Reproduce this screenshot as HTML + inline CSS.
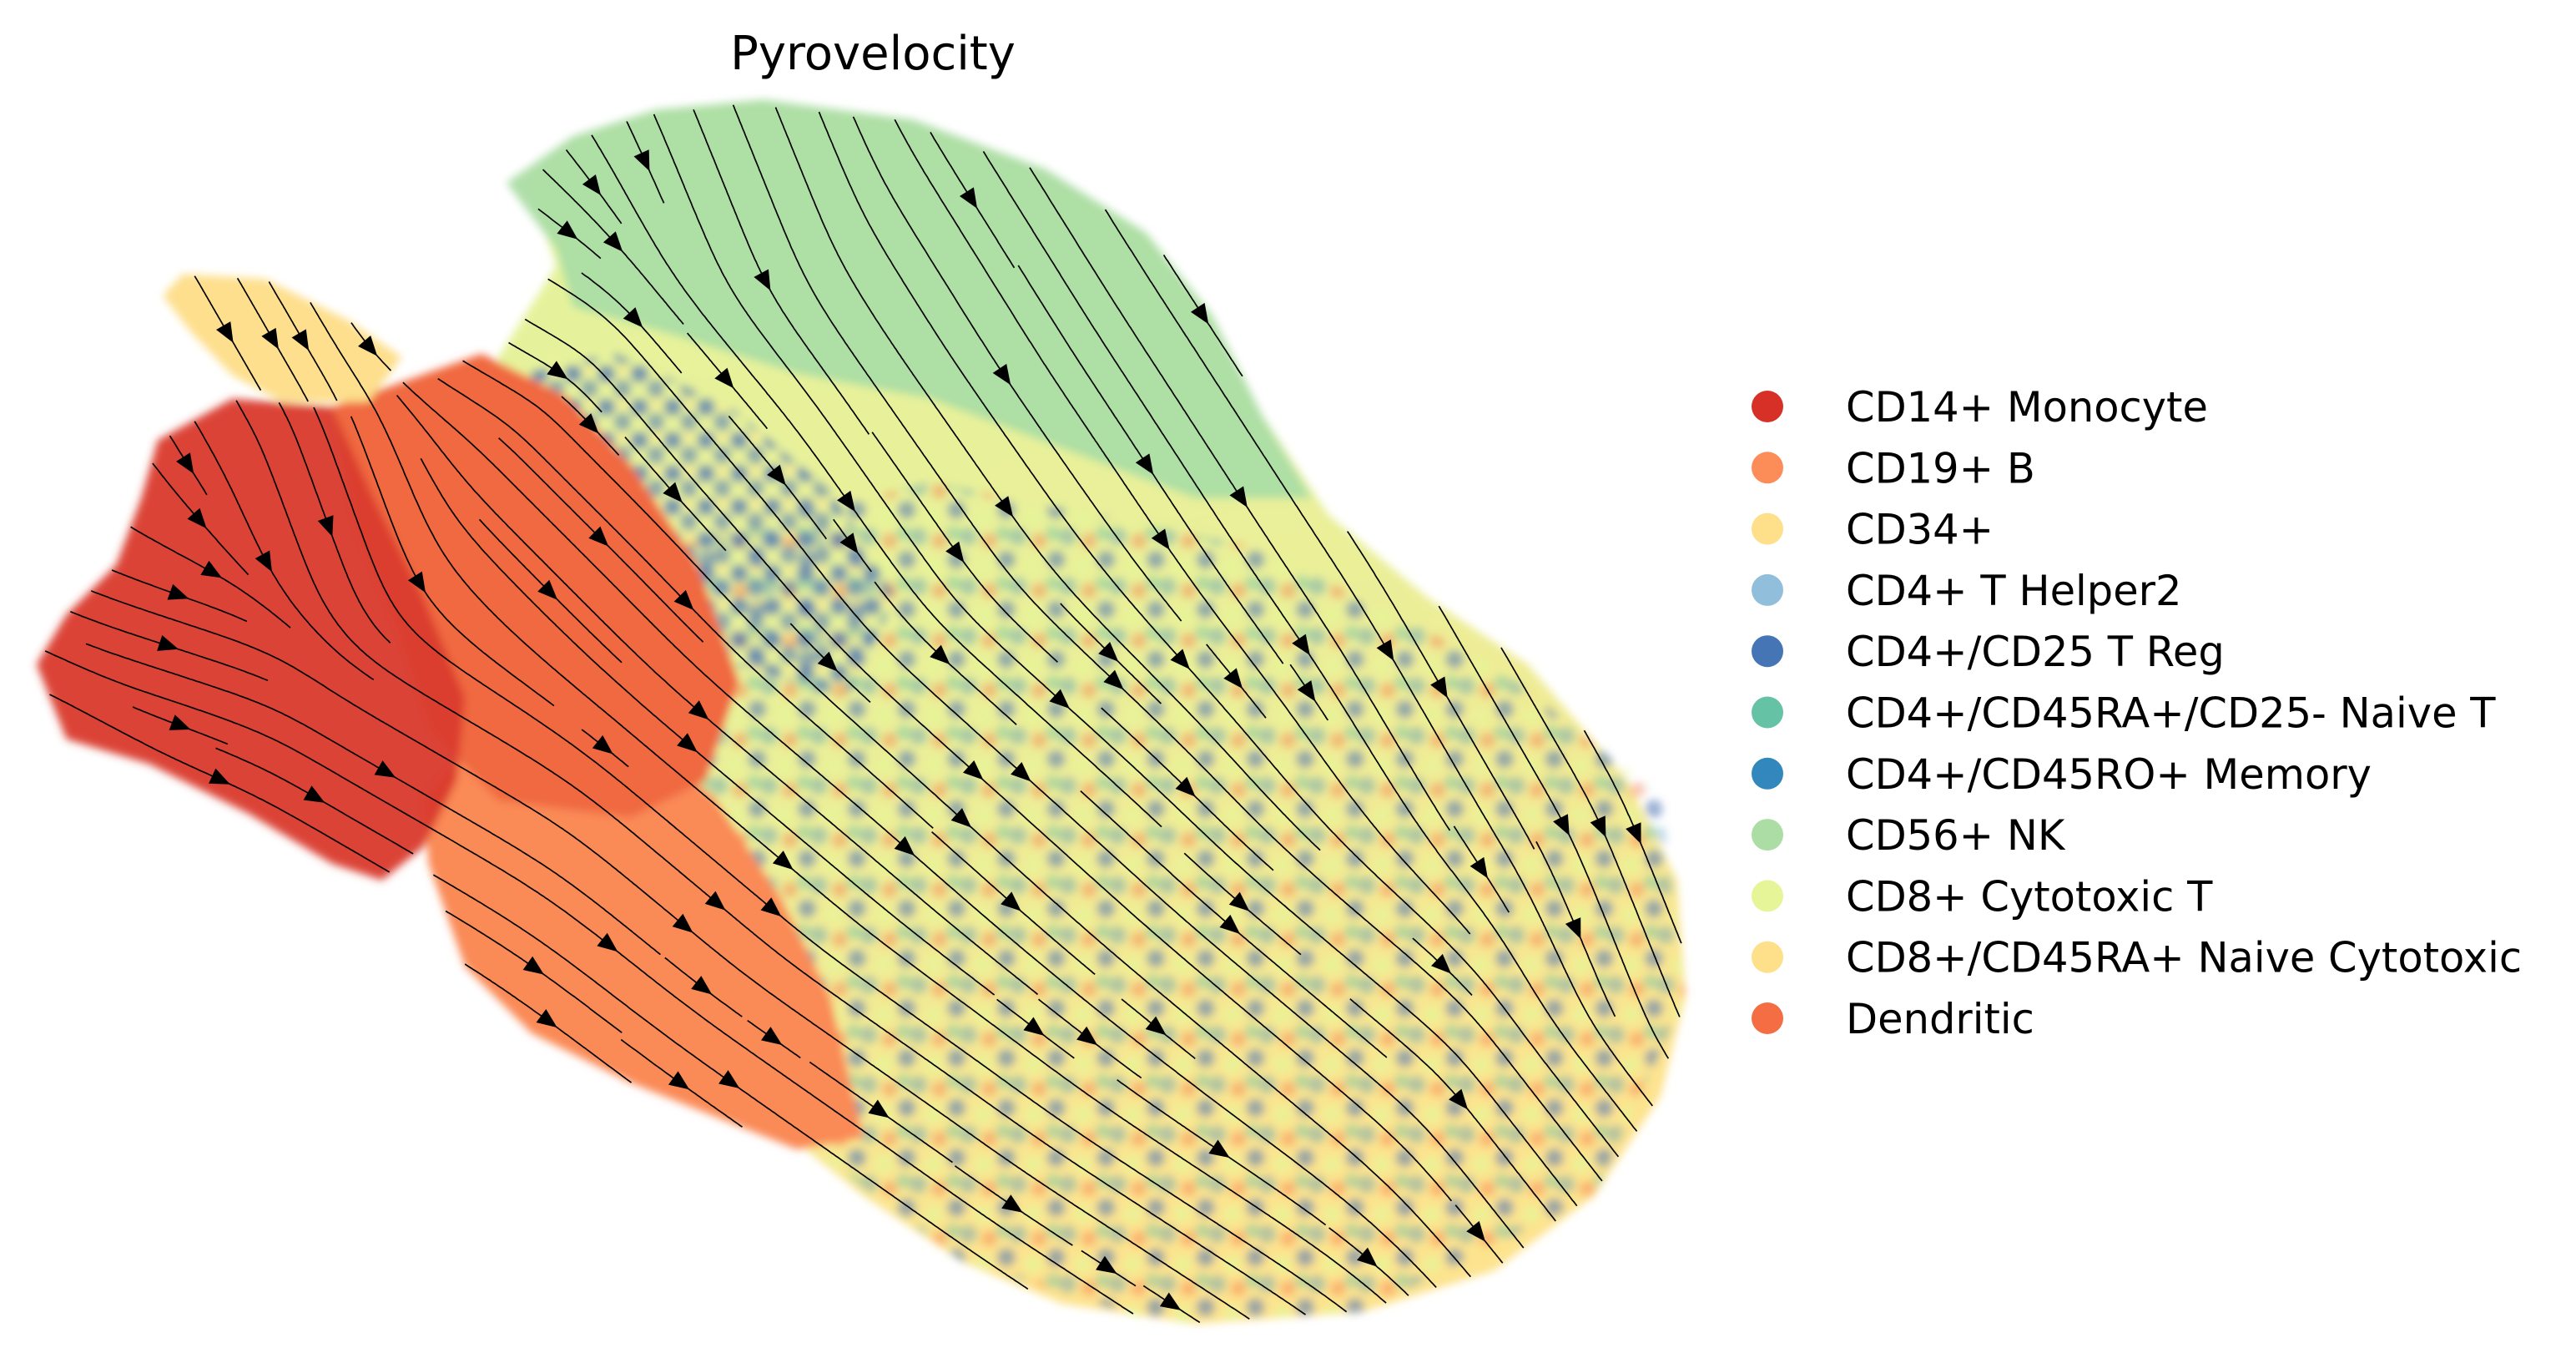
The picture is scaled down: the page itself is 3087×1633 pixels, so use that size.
<!DOCTYPE html>
<html><head><meta charset="utf-8"><style>
html,body{margin:0;padding:0;background:#fff;}
svg{display:block;font-family:"DejaVu Sans","Liberation Sans",sans-serif;}
</style></head><body>
<svg id="chart" width="3087" height="1633" viewBox="0 0 3087 1633" xmlns="http://www.w3.org/2000/svg">
<defs>
<linearGradient id="bodyGrad" x1="0" y1="0" x2="0.3" y2="1">
<stop offset="0" stop-color="#e4f49c"/><stop offset="0.55" stop-color="#eaef98"/><stop offset="1" stop-color="#fde38e"/>
</linearGradient>
<pattern id="mixDots" width="30" height="30" patternUnits="userSpaceOnUse">
<circle cx="6" cy="7" r="5.5" fill="#4a74b4" fill-opacity="0.55"/>
<circle cx="22" cy="11" r="5.5" fill="#e6f598" fill-opacity="0.7"/>
<circle cx="13" cy="23" r="5.5" fill="#3288bd" fill-opacity="0.35"/>
<circle cx="26" cy="26" r="5" fill="#f46d43" fill-opacity="0.4"/>
<circle cx="4" cy="21" r="4.5" fill="#66c2a5" fill-opacity="0.45"/>
</pattern>
<pattern id="blueDots" width="20" height="20" patternUnits="userSpaceOnUse">
<circle cx="5" cy="5" r="5.5" fill="#4a74b4" fill-opacity="0.7"/>
<circle cx="15" cy="14" r="5.5" fill="#4a74b4" fill-opacity="0.55"/>
<circle cx="15" cy="3" r="3" fill="#fee08b" fill-opacity="0.5"/>
</pattern>
<filter id="soft"><feGaussianBlur stdDeviation="2.5"/></filter>
</defs>
<text x="1046" y="83" font-size="56" text-anchor="middle" fill="#000">Pyrovelocity</text>
<g id="plot" transform="scale(1.99)">
<g id="regions" filter="url(#soft)"></g>
<g id="streams"></g>
</g>
<g id="legend"></g>
</svg>
<script>
// Legend categories and colours
const categories = ["CD14+ Monocyte","CD19+ B","CD34+","CD4+ T Helper2","CD4+/CD25 T Reg","CD4+/CD45RA+/CD25- Naive T","CD4+/CD45RO+ Memory","CD56+ NK","CD8+ Cytotoxic T","CD8+/CD45RA+ Naive Cytotoxic","Dendritic"];
const catColors = ["#d73027","#fc8d59","#fee08b","#91bfdb","#4575b4","#66c2a5","#3288bd","#abdda4","#e6f598","#fee08b","#f46d43"];
// Cluster outlines in embedding units
const bodyOutline = [[300,215],[335,160],[318,110],[345,85],[390,68],[450,62],[540,72],[620,100],[690,140],[730,190],[760,250],[800,310],[860,360],[920,400],[980,470],[1010,530],[1015,600],[1000,660],[960,720],[900,765],[820,790],[720,797],[640,785],[580,760],[520,720],[470,680],[430,650],[400,620],[350,560],[300,480]];
const nkOutline = [[305,110],[345,82],[395,66],[460,60],[550,72],[630,102],[690,140],[730,190],[760,250],[790,300],[720,300],[640,270],[560,240],[480,225],[400,200],[345,185],[335,150]];
const mixOutline = [[400,330],[560,290],[760,330],[900,400],[1000,480],[1015,600],[960,720],[820,790],[700,797],[580,760],[500,700],[440,600],[420,450]];
const tregOutline = [[300,228],[370,212],[440,245],[500,295],[540,360],[510,420],[440,400],[380,330],[320,270]];
const bOutline = [[255,480],[300,430],[380,440],[430,480],[470,540],[500,600],[520,685],[480,692],[430,672],[380,652],[320,622],[280,582],[258,520]];
const dcOutline = [[200,245],[290,213],[340,238],[380,280],[420,340],[445,410],[425,470],[380,492],[300,482],[260,440],[240,380],[215,320]];
const monoOutline = [[95,265],[140,240],[200,245],[225,300],[255,360],[280,420],[275,470],[255,510],[230,530],[200,520],[150,490],[90,460],[40,445],[22,400],[40,370],[70,340],[85,300]];
const cd34Outline = [[98,178],[110,165],[160,168],[210,193],[242,215],[222,242],[170,242],[140,226],[115,200]];
// Velocity field anchors: x, y, angle (degrees below horizontal)
const fieldX = [450,600,750,900,1000,600,450,500,100,200,350,800,300,150,60,700,950,550,400,250];
const fieldY = [100,150,250,420,560,450,500,650,400,300,300,600,200,200,450,750,680,280,250,470];
const fieldA = [68,58,57,60,68,42,40,35,18,70,45,40,30,60,28,33,52,55,50,30];

const NS='http://www.w3.org/2000/svg';
const regions=document.getElementById('regions');
function poly(pts,fill,op,name){
  const p=document.createElementNS(NS,'polygon');
  p.setAttribute('points',pts.map(q=>q.join(',')).join(' '));
  p.setAttribute('fill',fill);p.setAttribute('fill-opacity',op);
  
  
  regions.appendChild(p);
}
poly(bodyOutline,'url(#bodyGrad)',1,'cytotoxic-t-cluster');
poly(nkOutline,'#abdda4',0.95,'nk-cluster');
poly(mixOutline,'url(#mixDots)',1,'mixed-t-cells');
poly(tregOutline,'url(#blueDots)',1,'t-reg-cluster');
poly(bOutline,'#fa8a57',1,'b-cell-cluster');
poly(dcOutline,'#f0693f',1,'dendritic-cluster');
poly(monoOutline,'#d93a2c',0.95,'monocyte-cluster');
poly(cd34Outline,'#fddf8d',1,'cd34-cluster');

function inPoly(x,y,pts){let c=false;for(let i=0,j=pts.length-1;i<pts.length;j=i++){const xi=pts[i][0],yi=pts[i][1],xj=pts[j][0],yj=pts[j][1];if(((yi>y)!=(yj>y))&&(x<(xj-xi)*(y-yi)/(yj-yi)+xi))c=!c;}return c;}
const masks=[bodyOutline,bOutline,dcOutline,monoOutline,cd34Outline];
function inside(x,y){return masks.some(m=>inPoly(x,y,m));}
function dir(x,y){let sx=0,sy=0;for(let i=0;i<fieldX.length;i++){const d2=(x-fieldX[i])**2+(y-fieldY[i])**2+100;const w=1/(d2*d2);const a=fieldA[i]*Math.PI/180;sx+=w*Math.cos(a);sy+=w*Math.sin(a);}const n=Math.hypot(sx,sy);return [sx/n,sy/n];}
const CELL=12.5;
const occ=new Set();
function key(x,y){return Math.floor(x/CELL)+','+Math.floor(y/CELL);}
function trace(x,y,s,own){const pts=[];let last=null;for(let k=0;k<1200;k++){if(!inside(x,y))break;const c=key(x,y);if(c!==last){if(occ.has(c)&&!own.has(c))break;own.add(c);last=c;}pts.push([x,y]);const d=dir(x,y);x+=s*d[0]*1.5;y+=s*d[1]*1.5;}return pts;}
const streams=document.getElementById('streams');
for(let gy=CELL/2;gy<800;gy+=CELL){for(let gx=CELL/2;gx<1030;gx+=CELL){
  if(!inside(gx,gy)||occ.has(key(gx,gy)))continue;
  const own=new Set();
  const b=trace(gx,gy,-1,own).reverse();const f=trace(gx,gy,1,own);
  const pts=b.concat(f.slice(1));
  if(pts.length<25)continue;
  own.forEach(c=>occ.add(c));
  const path=document.createElementNS(NS,'path');
  path.setAttribute('d','M'+pts.map(p=>p[0].toFixed(1)+' '+p[1].toFixed(1)).join(' L'));
  path.setAttribute('fill','none');path.setAttribute('stroke','#000');path.setAttribute('stroke-width','0.85');
  
  
  streams.appendChild(path);
  const k=Math.floor(pts.length/2);
  const p=pts[k],q=pts[Math.min(k+3,pts.length-1)];const a=Math.atan2(q[1]-p[1],q[0]-p[0])*180/Math.PI;
  const tri=document.createElementNS(NS,'polygon');
  tri.setAttribute('points','6,0 -6,-5 -6,5');
  tri.setAttribute('fill','#000');
  tri.setAttribute('transform','translate('+p[0].toFixed(1)+','+p[1].toFixed(1)+') rotate('+a.toFixed(1)+')');
  
  
  streams.appendChild(tri);
}}
const legend=document.getElementById('legend');
categories.forEach((c,i)=>{
  const y=487+73.3*i;
  const g=document.createElementNS(NS,'g');
  
  
  const dot=document.createElementNS(NS,'circle');
  dot.setAttribute('cx',2118);dot.setAttribute('cy',y);dot.setAttribute('r',19);dot.setAttribute('fill',catColors[i]);
  
  
  const t=document.createElementNS(NS,'text');
  t.setAttribute('x',2212);t.setAttribute('y',y+18);t.setAttribute('font-size','49.5');t.setAttribute('fill','#000');
  t.textContent=c;
  
  
  g.appendChild(dot);g.appendChild(t);legend.appendChild(g);
});
</script>
</body></html>
